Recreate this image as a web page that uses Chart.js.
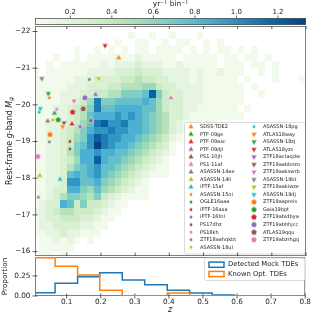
<!DOCTYPE html>
<html><head><meta charset="utf-8">
<script src="https://cdn.jsdelivr.net/npm/chart.js@4"></script>
<style>html,body{margin:0;padding:0;background:#fff;overflow:hidden}canvas{position:absolute;left:0;top:0}</style>
</head><body>
<canvas id="cb" width="313" height="315"></canvas>
<canvas id="main" width="313" height="315"></canvas>
<canvas id="hist" width="313" height="315"></canvas>
<script>
// ---------------- DATA ----------------
const yTicksMain = [-22, -21, -20, -19, -18, -17, -16];
const xTicks = [0.1, 0.2, 0.3, 0.4, 0.5, 0.6, 0.7, 0.8];
const cbTicks = [0.2, 0.4, 0.6, 0.8, 1.0, 1.2];
const histYTicks = [0, 0.25];

const tdeNames = ['SDSS-TDE2','PTF-09ge','PTF-09axc','PTF-09djl','PS1-10jh','PS1-11af','ASASSN-14ae','ASASSN-14li','iPTF-15af',
  'ASASSN-15oi','OGLE16aaa','iPTF-16axa','iPTF-16fnl','PS17dhz','PS18kh','ZTF18aahqkbt','ASASSN-18ul',
  'ASASSN-18pg','ATLAS18way','ASASSN-18zj','ATLAS18yzs','ZTF18actaqdw','ZTF19aabbnzo','ZTF19aakswrb','ASASSN-19bt','ZTF19aakiwze','ASASSN-19dj',
  'ZTF19aapreis','Gaia19bpt','ZTF19abidbya','ZTF19abhhjcc','ATLAS19qqu','ZTF19abzrhgq'];
const tdeZ = [0.252,0.064,0.115,0.184,0.170,0.405,0.044,0.021,0.080,
  0.049,0.166,0.109,0.017,0.109,0.070,0.049,0.059,
  0.019,0.088,0.046,0.212,0.139,0.092,0.121,0.027,0.193,0.0225,
  0.051,0.075,0.117,0.153,0.148,0.015];
const tdeMg = [-21.28,-19.77,-19.48,-20.28,-19.57,-20.19,-19.56,-18.07,-17.97,
  -20.19,-20.69,-19.00,-17.48,-18.80,-19.88,-18.99,-19.59,
  -19.80,-19.41,-20.31,-21.62,-19.41,-19.51,-20.11,-20.72,-20.72,-19.90,
  -19.19,-19.59,-19.80,-20.19,-19.89,-18.59];
const tdeMarker = '^^^^^^^^^.........vvvvvvvvvpppppp'.split('');

// 2D histogram: rows = magnitude bins (0.2 mag from -22.2), columns = z bins (0.02 from 0)
const hmZStart = 0, hmZStep = 0.02, hmMagStart = -22.2, hmMagStep = 0.2;
const hmRows = [
 ".........." + ".........." + ".........." + "..........",
 ".........." + "....1..1.." + "1...1....." + "..........",
 ".........." + "..1..11..1" + ".11..1.1.." + "..........",
 "......1..1" + ".1.1.11.11" + "11.1.1.11." + "1.1.......",
 "...1..1.11" + "1121121111" + "1.11111.11" + ".11.1.....",
 "..1.111111" + "2122232221" + "1211111.11" + "1.11.1....",
 "1.11111122" + "2233343332" + "2221211211" + "1..1.1....",
 "1111112223" + "3334454433" + "2221211111" + ".1...1...1",
 "1111122233" + "3445556643" + "3222211111" + "1.1.......",
 "1111222334" + "4557778c74" + "3322211111" + "1..1......",
 "111122346b" + "7788889864" + "3322211111" + "1.........",
 "111223457b" + "8899998864" + "3322111111" + ".1........",
 "1112234589" + "99a9a98765" + "3321111111" + "1.........",
 "112223468b" + "caab998765" + "3211111..." + "..........",
 "112234579a" + "abaa998765" + "321......." + "..........",
 "11223467ac" + "baa9987654" + "21........" + "..........",
 "11223478ad" + "ba99876543" + "1........." + "..........",
 "112235799a" + "9988765432" + "1........." + "..........",
 "112234699c" + "9887654321" + ".........." + "..........",
 "112235789a" + "8876543211" + ".........." + "..........",
 "112238989a" + "8765432111" + ".........." + "..........",
 "11223aa889" + "7654321..." + ".........." + "..........",
 "1123399768" + "6543211..." + ".........." + "..........",
 "1123577657" + "4321111..." + ".........." + "..........",
 "1233984744" + "3211......" + ".........." + "..........",
 "2234554443" + "211......." + ".........." + "..........",
 "1233444332" + "11........" + ".........." + "..........",
 "1223333221" + "1........." + ".........." + "..........",
 "1122322111" + ".........." + ".........." + "..........",
 ".112121.1." + ".........." + ".........." + "..........",
 ".11111...." + ".........." + ".........." + "..........",
 ".11.1....." + ".........." + ".........." + ".........."
];
const levelValues = [0, 0.07, 0.15, 0.25, 0.35, 0.46, 0.56, 0.66, 0.76, 0.86, 0.97, 1.08, 1.2, 1.33];
const cbMin = 0.03, cbMax = 1.335;

// 1D step histograms (proportion per z bin)
const histEdges = [0, 0.066, 0.132, 0.197, 0.263, 0.329, 0.395, 0.461, 0.527, 0.592, 0.658, 0.724, 0.79];
const mockProp  = [0.04, 0.16, 0.24, 0.29, 0.20, 0.14, 0.07, 0.037, 0.012, 0, 0, 0];
const knownProp = [0.475, 0.37, 0.26, 0.07, 0, 0, 0.037, 0, 0, 0, 0, 0];

// ---------------- STYLE HELPERS ----------------
Chart.defaults.font.family = 'DejaVu Sans';
Chart.defaults.font.size = 7;
Chart.defaults.color = '#222';
const FONT = 'DejaVu Sans';
const palette = ['#ff7f0e','#2ca02c','#d62728','#9467bd','#8c564b','#e377c2','#7f7f7f','#bcbd22','#17becf'];
const gnbuStops = ['#f7fcf0','#e0f3db','#ccebc5','#a8ddb5','#7bccc4','#4eb3d3','#2b8cbe','#0868ac','#084081'];
function hex2rgb(h){return [parseInt(h.slice(1,3),16),parseInt(h.slice(3,5),16),parseInt(h.slice(5,7),16)];}
function gnbu(v){
  let t = (v - cbMin) / (cbMax - cbMin); t = Math.max(0, Math.min(1, t));
  const f = t * (gnbuStops.length - 1), i = Math.min(gnbuStops.length - 2, Math.floor(f)), u = f - i;
  const a = hex2rgb(gnbuStops[i]), b = hex2rgb(gnbuStops[i+1]);
  return 'rgb(' + a.map((x,k)=>Math.round(x + (b[k]-x)*u)).join(',') + ')';
}
function makeMarker(kind, color){
  const c = document.createElement('canvas'); c.width = 10; c.height = 10;
  const g = c.getContext('2d'); const cx = 5, cy = 5;
  g.beginPath();
  if (kind === '.') { g.arc(cx, cy, 1.4, 0, Math.PI*2); }
  else {
    let n = 3, r = 3.4, a0 = -Math.PI/2;
    if (kind === 'v') a0 = Math.PI/2;
    if (kind === 'p') { n = 5; r = 3.2; }
    for (let k = 0; k < n; k++) { const a = a0 + k*2*Math.PI/n; const px = cx + r*Math.cos(a), py = cy + r*Math.sin(a); if (k) g.lineTo(px, py); else g.moveTo(px, py); }
    g.closePath();
  }
  g.fillStyle = color; g.fill();
  if (kind !== '.') { g.strokeStyle = 'rgba(255,255,255,0.85)'; g.lineWidth = 0.6; g.stroke(); }
  return c;
}
const markerImgs = tdeNames.map((n,i)=>makeMarker(tdeMarker[i], palette[i % 9]));

function drawRich(ctx, parts, cx, cy, rotate, size){
  ctx.save(); ctx.translate(cx, cy); if (rotate) ctx.rotate(-Math.PI/2);
  let total = 0;
  parts.forEach(p=>{ ctx.font = (p.it?'italic ':'') + (p.sub? size*0.72 : size) + 'px ' + FONT; p.w = ctx.measureText(p.t).width; total += p.w; });
  let x = -total/2; ctx.textBaseline = 'middle'; ctx.fillStyle = '#222';
  parts.forEach(p=>{ ctx.font = (p.it?'italic ':'') + (p.sub? size*0.72 : size) + 'px ' + FONT; ctx.fillText(p.t, x, p.sub ? size*0.3 : 0); x += p.w; });
  ctx.restore();
}
function line(ctx, x0, y0, x1, y1){ ctx.beginPath(); ctx.moveTo(x0, y0); ctx.lineTo(x1, y1); ctx.stroke(); }
const SPINE = '#808080', TICK = '#333';

// ---------------- COLORBAR ----------------
new Chart(document.getElementById('cb'), {
  type: 'scatter', data: { datasets: [] },
  options: {
    responsive: false, animation: false,
    layout: { padding: { left: 35, right: 7, top: 0, bottom: 290 } },
    plugins: { legend: { display: false }, tooltip: { enabled: false } },
    scales: {
      x: { type: 'linear', position: 'top', min: cbMin, max: cbMax,
        afterFit: s => { s.height = 18; },
        afterBuildTicks: s => { s.ticks = cbTicks.map(v => ({ value: v })); },
        ticks: { padding: 2, callback: v => v.toFixed(1), font: { size: 7 } },
        grid: { display: false, drawTicks: false }, border: { display: false } },
      y: { display: false, min: 0, max: 1 }
    }
  },
  plugins: [{
    id: 'cbar',
    afterDraw(chart){
      const { ctx, chartArea: a, scales: { x } } = chart;
      const grad = ctx.createLinearGradient(x.getPixelForValue(cbMin), 0, x.getPixelForValue(cbMax), 0);
      gnbuStops.forEach((c, i) => grad.addColorStop(i / (gnbuStops.length - 1), c));
      ctx.save();
      ctx.fillStyle = grad; ctx.fillRect(a.left, a.top, a.right - a.left, a.bottom - a.top);
      ctx.strokeStyle = '#555'; ctx.lineWidth = 0.8; ctx.strokeRect(a.left + 0.4, a.top + 0.4, a.right - a.left - 0.8, a.bottom - a.top - 0.8);
      ctx.strokeStyle = TICK; ctx.lineWidth = 0.7;
      cbTicks.forEach(v => { const px = x.getPixelForValue(v); line(ctx, px, a.top, px, a.top - 2.5); });
      ctx.restore();
      drawRich(ctx, [{ t: 'yr\u207B\u00B9 bin\u207B\u00B9' }], (a.left + a.right) / 2, 4.5, false, 7.5);
    }
  }]
});

// ---------------- MAIN PANEL ----------------
const heatmapPlugin = {
  id: 'heatmap',
  beforeDatasetsDraw(chart){
    const { ctx, chartArea: a, scales: { x, y } } = chart;
    ctx.save(); ctx.beginPath(); ctx.rect(a.left, a.top, a.right - a.left, a.bottom - a.top); ctx.clip();
    hmRows.forEach((row, r) => {
      const y0 = Math.round(y.getPixelForValue(hmMagStart + r * hmMagStep));
      const y1 = Math.round(y.getPixelForValue(hmMagStart + (r + 1) * hmMagStep));
      for (let c = 0; c < row.length; c++) {
        const lv = parseInt(row[c], 16); if (!lv) continue;
        const x0 = Math.round(x.getPixelForValue(hmZStart + c * hmZStep));
        const x1 = Math.round(x.getPixelForValue(hmZStart + (c + 1) * hmZStep));
        ctx.fillStyle = gnbu(levelValues[lv]);
        ctx.fillRect(Math.min(x0, x1), Math.min(y0, y1), Math.abs(x1 - x0), Math.abs(y1 - y0));
      }
    });
    ctx.restore();
  }
};
const mainDeco = {
  id: 'mainDeco',
  afterDatasetsDraw(chart){
    const { ctx, chartArea: a, scales: { x, y } } = chart;
    ctx.save();
    const lx = 184, ly = 122, lw = 121, lh = 131.5;
    ctx.beginPath(); ctx.roundRect(lx + 0.5, ly + 0.5, lw, lh, 2);
    ctx.fillStyle = 'rgba(255,255,255,0.85)'; ctx.fill(); ctx.strokeStyle = '#d0d0d0'; ctx.lineWidth = 0.8; ctx.stroke();
    ctx.font = '5px ' + FONT; ctx.textBaseline = 'middle'; ctx.fillStyle = '#222';
    tdeNames.forEach((n, i) => {
      const col = i < 17 ? 0 : 1, k = col ? i - 17 : i;
      const yy = 126.7 + 7.54 * k, mx = col ? 254 : 191, tx = col ? 263 : 200;
      ctx.drawImage(markerImgs[i], mx - 5, yy - 5);
      ctx.fillText(n, tx, yy);
    });
    ctx.strokeStyle = SPINE; ctx.lineWidth = 1;
    ctx.strokeRect(a.left + 0.5, a.top + 0.5, a.right - a.left - 1, a.bottom - a.top - 1);
    ctx.strokeStyle = TICK; ctx.lineWidth = 0.8;
    yTicksMain.forEach(v => { const py = y.getPixelForValue(v); line(ctx, a.left - 2.5, py, a.left + 2.5, py); });
    xTicks.forEach(v => { const px = x.getPixelForValue(v); line(ctx, px, a.top, px, a.top + 3); line(ctx, px, a.bottom, px, a.bottom - 3.5); });
    ctx.restore();
    drawRich(ctx, [{ t: 'Rest-frame ' }, { t: 'g', it: true }, { t: '-band ' }, { t: 'M', it: true }, { t: 'g', it: true, sub: true }], 9.5, 141, true, 8);
  }
};
new Chart(document.getElementById('main'), {
  type: 'scatter',
  data: { datasets: tdeNames.map((n, i) => ({ label: n, data: [{ x: tdeZ[i], y: tdeMg[i] }], pointStyle: markerImgs[i], pointRadius: 3, pointHoverRadius: 3 })) },
  options: {
    responsive: false, animation: false,
    layout: { padding: { left: 0, right: 7, top: 26, bottom: 59 } },
    plugins: { legend: { display: false }, tooltip: { enabled: false } },
    scales: {
      x: { type: 'linear', min: 0.007, max: 0.8, display: false },
      y: { type: 'linear', min: -22.15, max: -15.88, reverse: true,
        afterFit: s => { s.width = 35; },
        afterBuildTicks: s => { s.ticks = yTicksMain.map(v => ({ value: v })); },
        ticks: { padding: 4.5, callback: v => (v < 0 ? '\u2212' : '') + Math.abs(v), font: { size: 7.3 } },
        grid: { display: false, drawTicks: false }, border: { display: false } }
    }
  },
  plugins: [heatmapPlugin, mainDeco]
});

// ---------------- BOTTOM PANEL ----------------
function stepPoints(edges, vals){
  const pts = [{ x: edges[0], y: 0 }];
  vals.forEach((v, i) => pts.push({ x: edges[i], y: v }));
  pts.push({ x: edges[edges.length - 1], y: vals[vals.length - 1] });
  pts.push({ x: edges[edges.length - 1], y: 0 });
  return pts;
}
new Chart(document.getElementById('hist'), {
  type: 'line',
  data: { datasets: [
    { label: 'Detected Mock TDEs', data: stepPoints(histEdges, mockProp), stepped: 'before', borderColor: '#1f77b4', borderWidth: 1.5, pointRadius: 0, fill: false, order: 2 },
    { label: 'Known Opt. TDEs', data: stepPoints(histEdges, knownProp), stepped: 'before', borderColor: '#ff7f0e', borderWidth: 1.5, pointRadius: 0, fill: false, order: 1 }
  ] },
  options: {
    responsive: false, animation: false,
    layout: { padding: { left: 0, right: 7, top: 257, bottom: 0 } },
    plugins: { legend: { display: false }, tooltip: { enabled: false } },
    scales: {
      x: { type: 'linear', min: 0.007, max: 0.8,
        afterFit: s => { s.height = 19; },
        afterBuildTicks: s => { s.ticks = xTicks.map(v => ({ value: v })); },
        ticks: { padding: 2, callback: v => v.toFixed(1), font: { size: 7.3 }, maxRotation: 0, autoSkip: false },
        grid: { display: false, drawTicks: false }, border: { display: false } },
      y: { type: 'linear', min: 0, max: 0.485,
        afterFit: s => { s.width = 35; },
        afterBuildTicks: s => { s.ticks = histYTicks.map(v => ({ value: v })); },
        ticks: { padding: 4.5, callback: v => v.toFixed(2), font: { size: 7.3 } },
        grid: { display: false, drawTicks: false }, border: { display: false } }
    }
  },
  plugins: [{
    id: 'histDeco',
    beforeDatasetsDraw(chart){
      const { ctx, chartArea: a, scales: { x, y } } = chart;
      ctx.save();
      ctx.strokeStyle = SPINE; ctx.lineWidth = 1;
      ctx.strokeRect(a.left + 0.5, a.top + 0.5, a.right - a.left - 1, a.bottom - a.top - 1);
      ctx.strokeStyle = TICK; ctx.lineWidth = 0.8;
      histYTicks.forEach(v => { const py = y.getPixelForValue(v); line(ctx, a.left - 2.5, py, a.left + 2.5, py); });
      xTicks.forEach(v => { const px = x.getPixelForValue(v); line(ctx, px, a.bottom - 2.5, px, a.bottom + 2.5); });
      ctx.restore();
    },
    afterDraw(chart){
      const { ctx, chartArea: a } = chart;
      ctx.save();
      ctx.beginPath(); ctx.roundRect(204.5, 258, 100.5, 22.5, 2);
      ctx.fillStyle = 'rgba(255,255,255,0.85)'; ctx.fill(); ctx.strokeStyle = '#d0d0d0'; ctx.lineWidth = 0.8; ctx.stroke();
      const ds = chart.data.datasets;
      [264.7, 274].forEach((yy, i) => {
        ctx.strokeStyle = ds[i].borderColor; ctx.lineWidth = 1.5;
        ctx.strokeRect(209, yy - 2.6, 15, 5.2);
        ctx.fillStyle = '#222'; ctx.font = '6.8px ' + FONT; ctx.textBaseline = 'middle';
        ctx.fillText(ds[i].label, 228, yy);
      });
      ctx.restore();
      drawRich(ctx, [{ t: 'Proportion' }], 5.5, 276.5, true, 7.3);
      drawRich(ctx, [{ t: 'z', it: true }], (a.left + a.right) / 2, 309.5, false, 8);
    }
  }]
});
</script>
</body></html>
